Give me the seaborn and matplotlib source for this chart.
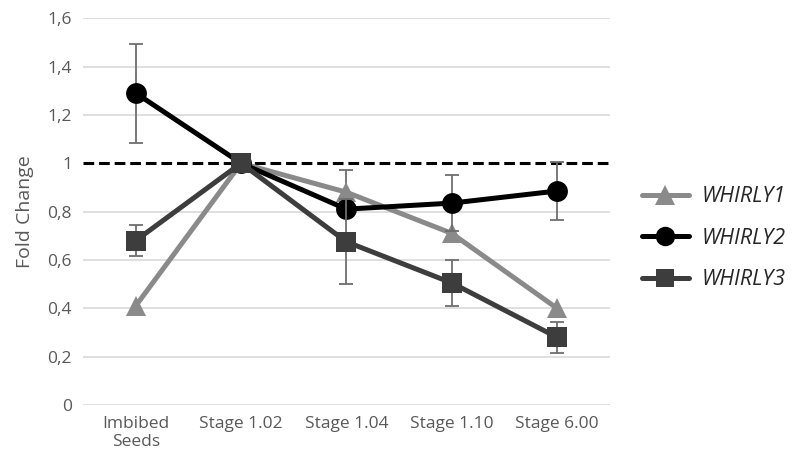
import matplotlib
matplotlib.use("Agg")
import matplotlib.pyplot as plt
import seaborn as sns
import pandas as pd
import numpy as np
from matplotlib.lines import Line2D

categories = ["Imbibed\nSeeds", "Stage 1.02", "Stage 1.04", "Stage 1.10", "Stage 6.00"]
whirly1 = [0.41, 1.00, 0.88, 0.71, 0.40]
whirly1_err = [0.0, 0.0, 0.09, 0.0, 0.0]
whirly2 = [1.29, 1.00, 0.81, 0.835, 0.885]
whirly2_err = [0.205, 0.0, 0.0, 0.115, 0.12]
whirly3 = [0.68, 1.00, 0.675, 0.505, 0.28]
whirly3_err = [0.065, 0.0, 0.175, 0.095, 0.065]
series_names = ["WHIRLY1", "WHIRLY2", "WHIRLY3"]
yticks = [0, 0.2, 0.4, 0.6, 0.8, 1.0, 1.2, 1.4, 1.6]
ytick_labels = ["0", "0,2", "0,4", "0,6", "0,8", "1", "1,2", "1,4", "1,6"]

colors = {"WHIRLY1": "#8a8a8a", "WHIRLY2": "#000000", "WHIRLY3": "#3d3d3d"}
markers = {"WHIRLY1": "^", "WHIRLY2": "o", "WHIRLY3": "s"}
msizes = {"WHIRLY1": 15, "WHIRLY2": 15, "WHIRLY3": 14}

vals = {"WHIRLY1": (whirly1, whirly1_err), "WHIRLY2": (whirly2, whirly2_err), "WHIRLY3": (whirly3, whirly3_err)}

sns.set_theme(style="white")
plt.rcParams['font.family'] = ['Open Sans', 'DejaVu Sans']

fig = plt.figure(figsize=(7.99, 4.66), dpi=100)
ax = fig.add_axes([0.104, 0.131, 0.659, 0.830])

ax.axhline(1.0, color="black", lw=2.2, ls=(0, (3.5, 1.6)), zorder=1.5)
for yt in yticks:
    if yt != 1.0:
        ax.axhline(yt, color="#d9d9d9", lw=1.2, zorder=0)

rows = []
for name in series_names:
    v, e = vals[name]
    for c, val, er in zip(categories, v, e):
        rows.append({"stage": c, "fold": val, "err": er, "gene": name})
df = pd.DataFrame(rows)

xpos = {c: i for i, c in enumerate(categories)}
for k, name in enumerate(series_names):
    sub = df[df.gene == name]
    xs = [xpos[c] for c in sub.stage]
    mask = sub.err.values > 0
    ax.errorbar(np.array(xs)[mask], sub.fold.values[mask], yerr=sub.err.values[mask],
                fmt="none", ecolor="#6e6e6e", elinewidth=1.3, capsize=5, capthick=1.3,
                zorder=2 + k)
    sns.lineplot(data=sub, x="stage", y="fold", ax=ax, color=colors[name],
                 marker=markers[name], markersize=msizes[name], markeredgewidth=0,
                 linewidth=3.6, legend=False, zorder=3 + k, sort=False)

ax.set_xlim(-0.5, 4.5)
ax.set_ylim(0, 1.6)
ax.set_yticks(yticks)
ax.set_yticklabels(ytick_labels)
ax.set_xticks(range(len(categories)))
ax.set_xticklabels(categories)
ax.tick_params(axis="both", colors="#595959", labelsize=12.5, length=0, pad=8)
ax.set_xlabel("")
ax.set_ylabel("Fold Change", color="#595959", fontsize=14, labelpad=10)
for s in ax.spines.values():
    s.set_visible(False)
ax.grid(False)

handles = [Line2D([0], [0], color=colors[n], marker=markers[n], markersize=msizes[n] - 1,
                  markeredgewidth=0, linewidth=3.6) for n in series_names]
leg = fig.legend(handles, series_names, loc="center left", bbox_to_anchor=(0.779, 0.489),
                 frameon=False, handlelength=2.2, labelspacing=0.95, handletextpad=0.6,
                 prop={"style": "italic", "size": 15.5})
for t in leg.get_texts():
    t.set_color("#262626")

fig.savefig("out.png", dpi=100)
